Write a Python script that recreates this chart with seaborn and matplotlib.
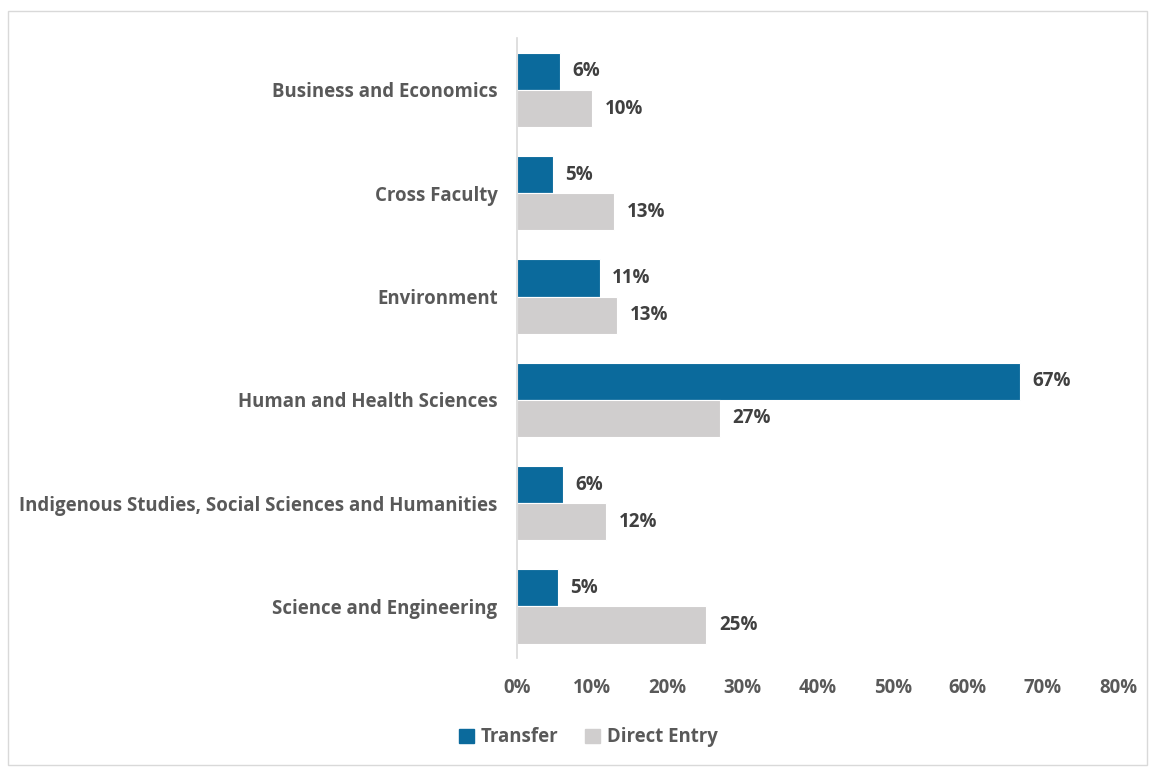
import pandas as pd
import matplotlib.pyplot as plt
import seaborn as sns
from matplotlib.patches import Rectangle

faculties = ["Business and Economics", "Cross Faculty", "Environment",
             "Human and Health Sciences",
             "Indigenous Studies, Social Sciences and Humanities",
             "Science and Engineering"]
transfer = [5.7, 4.8, 11.0, 67.0, 6.1, 5.4]
direct_entry = [10.0, 12.9, 13.3, 27.0, 11.9, 25.2]
series = ["Transfer", "Direct Entry"]
colors = ["#0B6A9C", "#D0CECE"]

df = pd.DataFrame({
    "Faculty": faculties * 2,
    "Group": [series[0]] * len(faculties) + [series[1]] * len(faculties),
    "Value": transfer + direct_entry,
})

sns.set_style("white")
plt.rcParams["font.family"] = ["Open Sans", "DejaVu Sans"]

fig = plt.figure(figsize=(11.49, 7.67), dpi=100)
ax = fig.add_axes([0.45, 0.142, 0.523, 0.808])

sns.barplot(data=df, y="Faculty", x="Value", hue="Group", order=faculties,
            hue_order=series, palette=colors, saturation=1, orient="h", width=0.72,
            edgecolor="white", linewidth=0.8, ax=ax, legend=False)

for cont in ax.containers:
    ax.bar_label(cont, labels=[f"{v:.0f}%" for v in cont.datavalues],
                 padding=9, fontsize=13.5, fontweight="bold", color="#404040")

ax.set_xlim(0, 80)
ax.set_xticks(range(0, 81, 10))
ax.set_xticklabels([f"{t}%" for t in range(0, 81, 10)])
ax.set_xlabel("")
ax.set_ylabel("")
ax.tick_params(axis="x", length=0, pad=14, labelsize=13.4, labelcolor="#595959")
ax.tick_params(axis="y", length=0, pad=14, labelsize=13.4, labelcolor="#595959")
for lab in ax.get_xticklabels() + ax.get_yticklabels():
    lab.set_fontweight("bold")

for s in ["top", "right", "bottom"]:
    ax.spines[s].set_visible(False)
ax.spines["left"].set_color("#D9D9D9")
ax.spines["left"].set_linewidth(1.2)

handles = [Rectangle((0, 0), 1, 1, color=c) for c in colors]
leg = fig.legend(handles, series, loc="center", bbox_to_anchor=(0.512, 0.039),
                 ncol=2, frameon=False, handlelength=0.8, handleheight=0.8,
                 columnspacing=1.4, handletextpad=0.4,
                 prop={"size": 13.4, "weight": "bold"})
for t in leg.get_texts():
    t.set_color("#595959")

fig.patches.append(Rectangle((0.007, 0.003), 0.991, 0.983, transform=fig.transFigure,
                             fill=False, edgecolor="#D9D9D9", linewidth=1))

fig.savefig("out.png", dpi=100)
